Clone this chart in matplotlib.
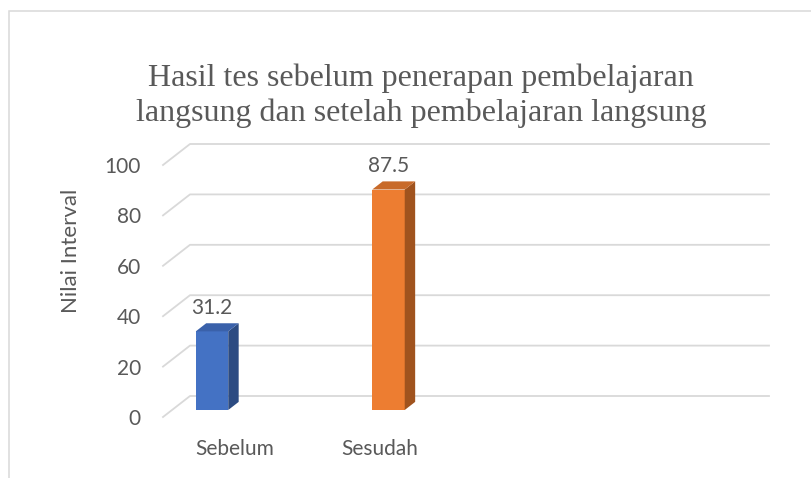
import matplotlib
matplotlib.use("Agg")
import matplotlib.pyplot as plt
from matplotlib.patches import Polygon, Rectangle
import numpy as np

# data
categories = ["Sebelum", "Sesudah"]
values = [31.2, 87.5]
y_ticks = [0, 20, 40, 60, 80, 100]

title = "Hasil tes sebelum penerapan pembelajaran\nlangsung dan setelah pembelajaran langsung"
y_label = "Nilai Interval"

# styling / layout
face_colors = ["#4472C4", "#ED7D31"]
side_colors = ["#2C4B82", "#A0531E"]
top_colors = ["#3A61AA", "#C86A29"]
grid_color = "#D9D9D9"
text_color = "#595959"
label_shift = [0.18, 0.0]

W, H = 811, 478
X_LO, X_HI = -0.2266, 3.054   # front plane of the 3d box
DX, DY = 0.153, 8.33          # depth offset to the back wall (data units)
F0, F1 = 1 / 3, 0.72          # front / back of the columns as fraction of depth
BAR_W = 0.184

fig = plt.figure(figsize=(W / 100, H / 100), dpi=100)
fig.patch.set_facecolor("white")

# chart area border
fig.add_artist(Rectangle((9 / W, -0.1), 2, 1.1 - 11 / H, transform=fig.transFigure,
                         fill=False, edgecolor=grid_color, linewidth=1.1))

ax = fig.add_axes([163 / W, (H - 417) / H, (742 - 163) / W, 252 / H])
ax.set_xlim(X_LO, X_HI)
ax.set_ylim(0, 100)
ax.set_facecolor("none")
for s in ax.spines.values():
    s.set_visible(False)

# perspective gridlines
for v in y_ticks:
    ax.plot([X_LO, X_LO + DX, X_HI + DX], [v, v + DY, v + DY],
            color=grid_color, linewidth=1.3, zorder=1, clip_on=False)

x = np.arange(len(categories))
ddx, ddy = (F1 - F0) * DX, (F1 - F0) * DY
base = F0 * DY
ax.bar(x + F0 * DX, values, BAR_W, bottom=base, color=face_colors, zorder=3, clip_on=False)

for i, v in enumerate(values):
    xl = x[i] + F0 * DX - BAR_W / 2
    xr = xl + BAR_W
    top = base + v
    side = Polygon([(xr, base), (xr + ddx, base + ddy), (xr + ddx, top + ddy), (xr, top)],
                   closed=True, facecolor=side_colors[i], edgecolor="none", zorder=3, clip_on=False)
    cap = Polygon([(xl, top), (xr, top), (xr + ddx, top + ddy), (xl + ddx, top + ddy)],
                  closed=True, facecolor=top_colors[i], edgecolor="none", zorder=3, clip_on=False)
    ax.add_patch(side)
    ax.add_patch(cap)
    ax.annotate(f"{v}", (x[i] + F0 * DX, top + ddy), xytext=(0, 11), textcoords="offset points",
                ha="center", va="center", fontsize=15, family="Lato", color=text_color)

ax.set_yticks(y_ticks)
ax.set_xticks(x + np.array(label_shift))
ax.set_xticklabels(categories)
ax.tick_params(axis="y", length=0, pad=16, labelsize=15, labelcolor=text_color)
ax.tick_params(axis="x", length=0, pad=16, labelsize=15, labelcolor=text_color)
for t in ax.get_xticklabels() + ax.get_yticklabels():
    t.set_family("Lato")

fig.text(71 / W, 1 - 251 / H, y_label, rotation=90, ha="center", va="center",
         fontsize=16, family="Lato", color=text_color)
fig.text(421 / W, 1 - 96 / H, title, ha="center", va="center", fontsize=23,
         family="Liberation Serif", color=text_color, linespacing=1.25)

fig.savefig("out.png", dpi=100)
